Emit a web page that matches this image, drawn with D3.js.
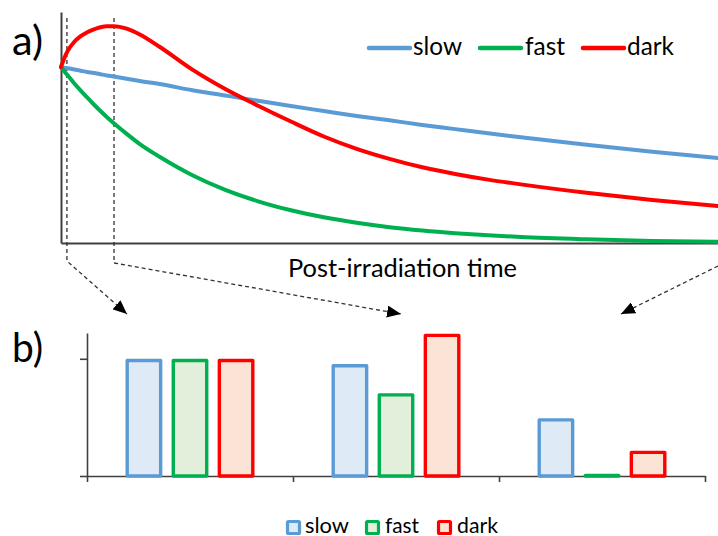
<!DOCTYPE html>
<html>
<head>
<meta charset="utf-8">
<script src="https://cdn.jsdelivr.net/npm/d3@7"></script>
<style>
  html, body { margin: 0; padding: 0; background: #fff; }
  svg { display: block; font-family: Lato, "Open Sans", sans-serif; }
</style>
</head>
<body>
<svg id="chart" width="718" height="536"></svg>
<script>
// ---------- DATA ----------
// Panel a: relative signal vs post-irradiation time (arbitrary units 0..100)
const times     = [0, 0.5, 1, 2, 3, 4, 5, 6, 7, 8, 10, 12, 15, 20, 25, 30, 35, 40, 45, 50, 55, 60, 65, 70, 80, 90, 100];
const slowCurve = [1.0, 0.996, 0.993, 0.986, 0.979, 0.972, 0.966, 0.959, 0.952, 0.946, 0.933, 0.92, 0.903, 0.868, 0.838, 0.808, 0.778, 0.75, 0.722, 0.697, 0.671, 0.647, 0.623, 0.601, 0.558, 0.518, 0.483];
const fastCurve = [1.0, 0.976, 0.953, 0.908, 0.866, 0.826, 0.787, 0.75, 0.715, 0.682, 0.62, 0.562, 0.49, 0.385, 0.302, 0.237, 0.186, 0.146, 0.115, 0.09, 0.071, 0.056, 0.044, 0.034, 0.021, 0.012, 0.007];
const darkCurve = [1.0, 1.05, 1.09, 1.142, 1.175, 1.198, 1.214, 1.226, 1.232, 1.232, 1.218, 1.185, 1.115, 0.985, 0.875, 0.78, 0.69, 0.605, 0.535, 0.478, 0.43, 0.392, 0.36, 0.333, 0.285, 0.244, 0.21];
const markTimes = [0.9, 8.07, 100];   // sampling instants (dashed lines)

// Panel b: values at the three sampling instants
const barCats = ["t1", "t2", "t3"];
const barSlow = [1.0, 0.955, 0.493];
const barFast = [1.0, 0.707, 0.012];
const barDark = [1.0, 1.214, 0.216];

const seriesNames = ["slow", "fast", "dark"];
const labelA = "a)", labelB = "b)";
const xTitle = "Post-irradiation time";

// ---------- STYLE ----------
const lineColor = { slow: "#5b9bd5", fast: "#00b050", dark: "#ff0000" };
const fillColor = { slow: "#deeaf6", fast: "#e2efda", dark: "#fbe4d5" };
const axisColor = "#404040";

const svg = d3.select("#chart");

// ---------- PANEL A ----------
const xA = d3.scaleLinear().domain([0, 100]).range([61, 718]);
const yA = d3.scaleLinear().domain([0, 1.3125]).range([243, 12]);

svg.append("g").attr("transform", "translate(61,0)")
  .call(d3.axisLeft(yA).tickValues([]).tickSizeOuter(0))
  .call(g => g.select(".domain").attr("stroke", axisColor).attr("stroke-width", 2));
svg.append("g").attr("transform", "translate(0,243)")
  .call(d3.axisBottom(xA).tickValues([]).tickSizeOuter(0))
  .call(g => g.select(".domain").attr("stroke", axisColor).attr("stroke-width", 2));

// dashed connectors (drawn first so curves sit on top at crossings)
const defs = svg.append("defs");
defs.append("marker").attr("id", "arrow").attr("viewBox", "0 0 14 12")
  .attr("refX", 14).attr("refY", 6).attr("markerWidth", 14).attr("markerHeight", 12)
  .attr("markerUnits", "userSpaceOnUse").attr("orient", "auto")
  .append("path").attr("d", "M0,0 L14,6 L0,12 Z").attr("fill", "#000");

const arrowTips = [[127, 314], [401, 314], [621, 314]];
const bends = [261, 263, 266];
markTimes.forEach((t, i) => {
  const x = xA(t);
  const path = t < 100
    ? `M${x},${yA(1.278)} V${bends[i]} L${arrowTips[i][0]},${arrowTips[i][1]}`
    : `M${x},${bends[i]} L${arrowTips[i][0]},${arrowTips[i][1]}`;
  svg.append("path").attr("d", path).attr("fill", "none")
    .attr("stroke", "#333").attr("stroke-width", 1.3).attr("stroke-dasharray", "4,3")
    .attr("marker-end", "url(#arrow)");
});

const curves = { slow: slowCurve, fast: fastCurve, dark: darkCurve };
const line = d3.line().x(d => xA(d[0])).y(d => yA(d[1])).curve(d3.curveMonotoneX);
["slow", "fast", "dark"].forEach(k => {
  svg.append("path")
    .datum(times.map((t, i) => [t, curves[k][i]]))
    .attr("d", line)
    .attr("fill", "none")
    .attr("stroke", lineColor[k])
    .attr("stroke-width", 4)
    .attr("stroke-linecap", "round");
});

// legend a
const legA = [{ k: "slow", x: 369, tx: 413, w: 49 }, { k: "fast", x: 480, tx: 525, w: 40 }, { k: "dark", x: 583, tx: 627, w: 47 }];
legA.forEach(d => {
  svg.append("line").attr("x1", d.x).attr("x2", d.x + 41).attr("y1", 48).attr("y2", 48)
    .attr("stroke", lineColor[d.k]).attr("stroke-width", 4.5).attr("stroke-linecap", "round");
  svg.append("text").attr("x", d.tx).attr("y", 55).attr("font-size", 25).attr("fill", "#000")
    .attr("textLength", d.w).attr("lengthAdjust", "spacingAndGlyphs").text(d.k);
});

svg.append("text").attr("x", 288).attr("y", 277).attr("font-size", 25)
  .attr("textLength", 229).attr("lengthAdjust", "spacingAndGlyphs").text(xTitle);

svg.append("text").attr("x", 12).attr("y", 55).attr("font-size", 40)
  .attr("textLength", 31).attr("lengthAdjust", "spacingAndGlyphs").text(labelA);
svg.append("text").attr("x", 12).attr("y", 362).attr("font-size", 40)
  .attr("textLength", 31).attr("lengthAdjust", "spacingAndGlyphs").text(labelB);

// ---------- PANEL B ----------
const xB = d3.scaleBand().domain(barCats).range([87, 705]).padding(0);
const xInner = d3.scaleBand().domain(seriesNames).range([38.5, 167.5]).paddingInner(0.2).paddingOuter(0);
const yB = d3.scaleLinear().domain([0, 1.22]).range([476, 333]);
const xEdge = d3.scaleLinear().domain([0, barCats.length]).range([87, 705]);

svg.append("g").attr("transform", "translate(87,0)")
  .call(d3.axisLeft(yB).tickValues([0, 1]).tickSize(7).tickSizeOuter(0).tickFormat(""))
  .call(g => { g.selectAll("line, path").attr("stroke", axisColor).attr("stroke-width", 1.6); });
svg.append("g").attr("transform", "translate(0,476)")
  .call(d3.axisBottom(xEdge).tickValues(d3.range(barCats.length + 1)).tickSize(6).tickSizeOuter(0).tickFormat(""))
  .call(g => { g.selectAll("line, path").attr("stroke", axisColor).attr("stroke-width", 1.6); });

const barVals = { slow: barSlow, fast: barFast, dark: barDark };
const bw = xInner.bandwidth();
const sw = 3.4;
barCats.forEach((c, i) => {
  seriesNames.forEach(k => {
    const v = barVals[k][i];
    const x0 = xB(c) + xInner(k);
    const top = yB(v) + sw / 2;
    svg.append("rect")
      .attr("x", x0 + sw / 2).attr("y", Math.min(top, yB(0) - 0.5))
      .attr("width", bw - sw).attr("height", Math.max(yB(0) - top, 0.5))
      .attr("fill", fillColor[k]).attr("stroke", lineColor[k]).attr("stroke-width", sw)
      .attr("stroke-linejoin", "round");
  });
});

// legend b
const legB = [{ k: "slow", x: 286, tx: 305, w: 44 }, { k: "fast", x: 365, tx: 385, w: 34 }, { k: "dark", x: 437, tx: 457, w: 41 }];
legB.forEach(d => {
  svg.append("rect").attr("x", d.x + 1.5).attr("y", 521.5).attr("width", 12).attr("height", 12)
    .attr("fill", fillColor[d.k]).attr("stroke", lineColor[d.k]).attr("stroke-width", 3.2).attr("rx", 1);
  svg.append("text").attr("x", d.tx).attr("y", 533).attr("font-size", 21).attr("fill", "#000")
    .attr("textLength", d.w).attr("lengthAdjust", "spacingAndGlyphs").text(d.k);
});
</script>
</body>
</html>
